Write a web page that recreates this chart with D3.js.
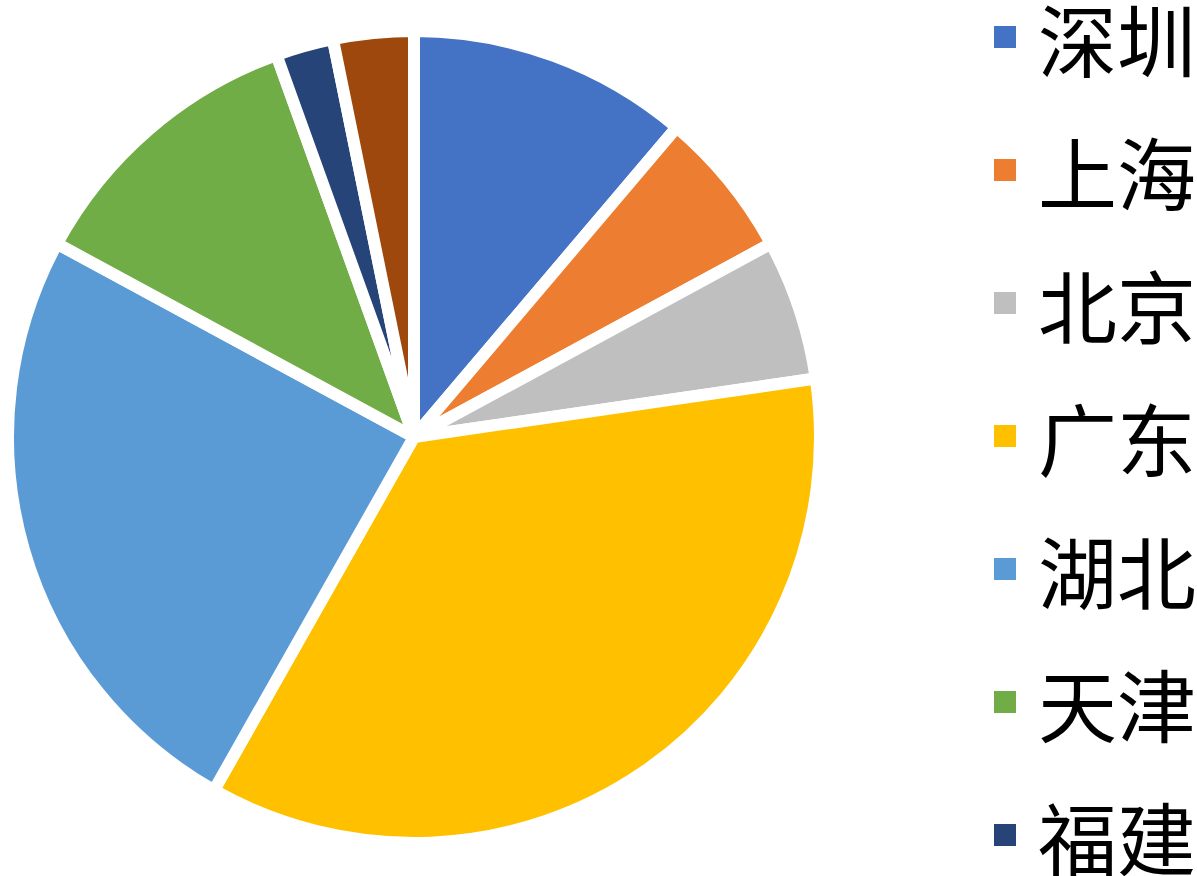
<!DOCTYPE html>
<html>
<head>
<meta charset="utf-8">
<script src="https://cdn.jsdelivr.net/npm/d3@7"></script>
<style>
  body { margin: 0; background: #fff; overflow: hidden; }
</style>
</head>
<body>
<div id="chart"></div>
<script>

  // regions and their shares
  var regions = ["深圳", "上海", "北京", "广东", "湖北", "天津", "福建", "其他"];
  var shares = [11.2, 5.9, 5.6, 35.5, 24.7, 11.6, 2.3, 3.2];
  var colors = ["#4472C4", "#ED7D31", "#BFBFBF", "#FFC000", "#5B9BD5", "#70AD47", "#264478", "#9E480E"];

  var width = 1197,
      height = 876;

  var svg = d3.select("#chart")
    .append("svg")
    .attr("width", width)
    .attr("height", height);

  var myData = regions.map(function(d, i){
    return { name: d, value: shares[i], color: colors[i] };
  });

  //=========================================================================
  // Pie
  //=========================================================================
  var cx = 414, cy = 437, radius = 406;

  var pie = d3.pie()
    .sort(null)
    .value(function(d){ return d.value; });

  var arc = d3.arc()
    .innerRadius(0)
    .outerRadius(radius);

  var gPie = svg.append("g")
    .attr("transform", `translate(${cx}, ${cy})`);

  gPie.selectAll("path")
    .data(pie(myData))
    .enter()
    .append("path")
    .attr("d", arc)
    .attr("fill", function(d){ return d.data.color; })
    .attr("stroke", "#fff")
    .attr("stroke-width", 12)
    .attr("stroke-linejoin", "round");

  //=========================================================================
  // Legend
  //=========================================================================
  var legendY = d3.scalePoint()
    .domain(regions)
    .range([37, 37 + 133 * (regions.length - 1)]);

  var legend = svg.append("g")
    .selectAll("g")
    .data(myData)
    .enter()
    .append("g")
    .attr("transform", function(d){ return `translate(994, ${legendY(d.name)})`; });

  legend.append("rect")
    .attr("x", 0)
    .attr("y", -11)
    .attr("width", 22)
    .attr("height", 22)
    .attr("fill", function(d){ return d.color; });

  legend.append("text")
    .attr("x", 44)
    .attr("y", 0)
    .attr("dominant-baseline", "central")
    .style("font-family", "'Noto Sans CJK SC', sans-serif")
    .style("font-size", "79px")
    .attr("fill", "#000")
    .text(function(d){ return d.name; });

</script>
</body>
</html>
